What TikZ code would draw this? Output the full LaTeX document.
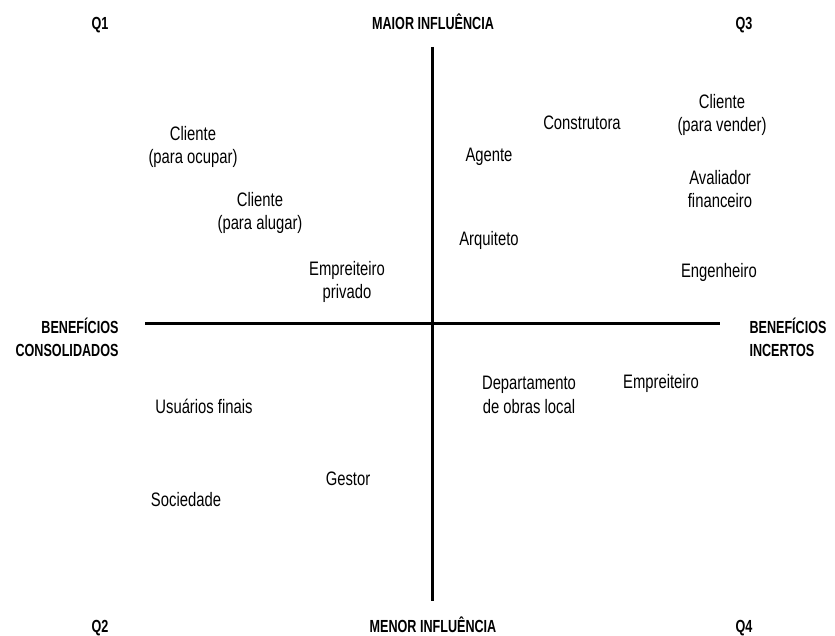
\documentclass[tikz,border=0pt]{standalone}
\usepackage{fontspec}
\setmainfont{Liberation Sans}[FakeStretch=0.76]
\newfontfamily\headfont{Liberation Sans}[FakeStretch=0.72]
\usetikzlibrary{positioning}

\begin{document}
\begin{tikzpicture}[x=1pt, y=-1pt, line width=3pt]
\tikzstyle{every node}=[inner sep=0pt, align=center, text=black]
\tikzstyle{actor}=[font=\fontsize{19.5}{23.5}\selectfont]
\tikzstyle{axislabel}=[font=\fontsize{17.5}{23}\selectfont\headfont\bfseries]
\useasboundingbox (0,0) rectangle (835,636);
% axes
\coordinate (top)    at (432,47);
\coordinate (bottom) at (432,601);
\coordinate (left)   at (145,323);
\coordinate (right)  at (720,323);
\draw (top) -- (bottom);
\draw (left) -- (right);
% corner and axis labels
\node[axislabel, anchor=base] (q1)    at (100,30)  {Q1};
\node[axislabel, anchor=base] (q3)    at (744,30)  {Q3};
\node[axislabel, anchor=base] (q2)    at (100,632) {Q2};
\node[axislabel, anchor=base] (q4)    at (744,632) {Q4};
\node[axislabel, anchor=base] (maior) at (433,30)  {MAIOR INFLUÊNCIA};
\node[axislabel, anchor=base] (menor) at (433,632) {MENOR INFLUÊNCIA};
\node[axislabel, align=right, anchor=east] (consol) at (120,337) {BENEFÍCIOS\\CONSOLIDADOS};
\node[axislabel, align=left, anchor=west]  (incert) at (748,337) {BENEFÍCIOS\\INCERTOS};
% actors
\node[actor] (ocupar)   at (193,147) {Cliente\\(para ocupar)};
\node[actor] (alugar)   at (260,213) {Cliente\\(para alugar)};
\node[actor] (privado)  at (347,282) {Empreiteiro\\privado};
\node[actor] (agente)   at (489,157) {Agente};
\node[actor] (constr)   at (582,123) {Construtora};
\node[actor] (vender)   at (722,115) {Cliente\\(para vender)};
\node[actor] (avaliad)  at (720,189) {Avaliador\\financeiro};
\node[actor] (arquit)   at (489,240) {Arquiteto};
\node[actor] (engenh)   at (719,272) {Engenheiro};
\node[actor] (depto)    at (529,395) {Departamento\\de obras local};
\node[actor] (empreit)  at (661,383) {Empreiteiro};
\node[actor] (usuarios) at (204,406) {Usuários finais};
\node[actor] (gestor)   at (348,479) {Gestor};
\node[actor] (socied)   at (186,500) {Sociedade};
\end{tikzpicture}
\end{document}
